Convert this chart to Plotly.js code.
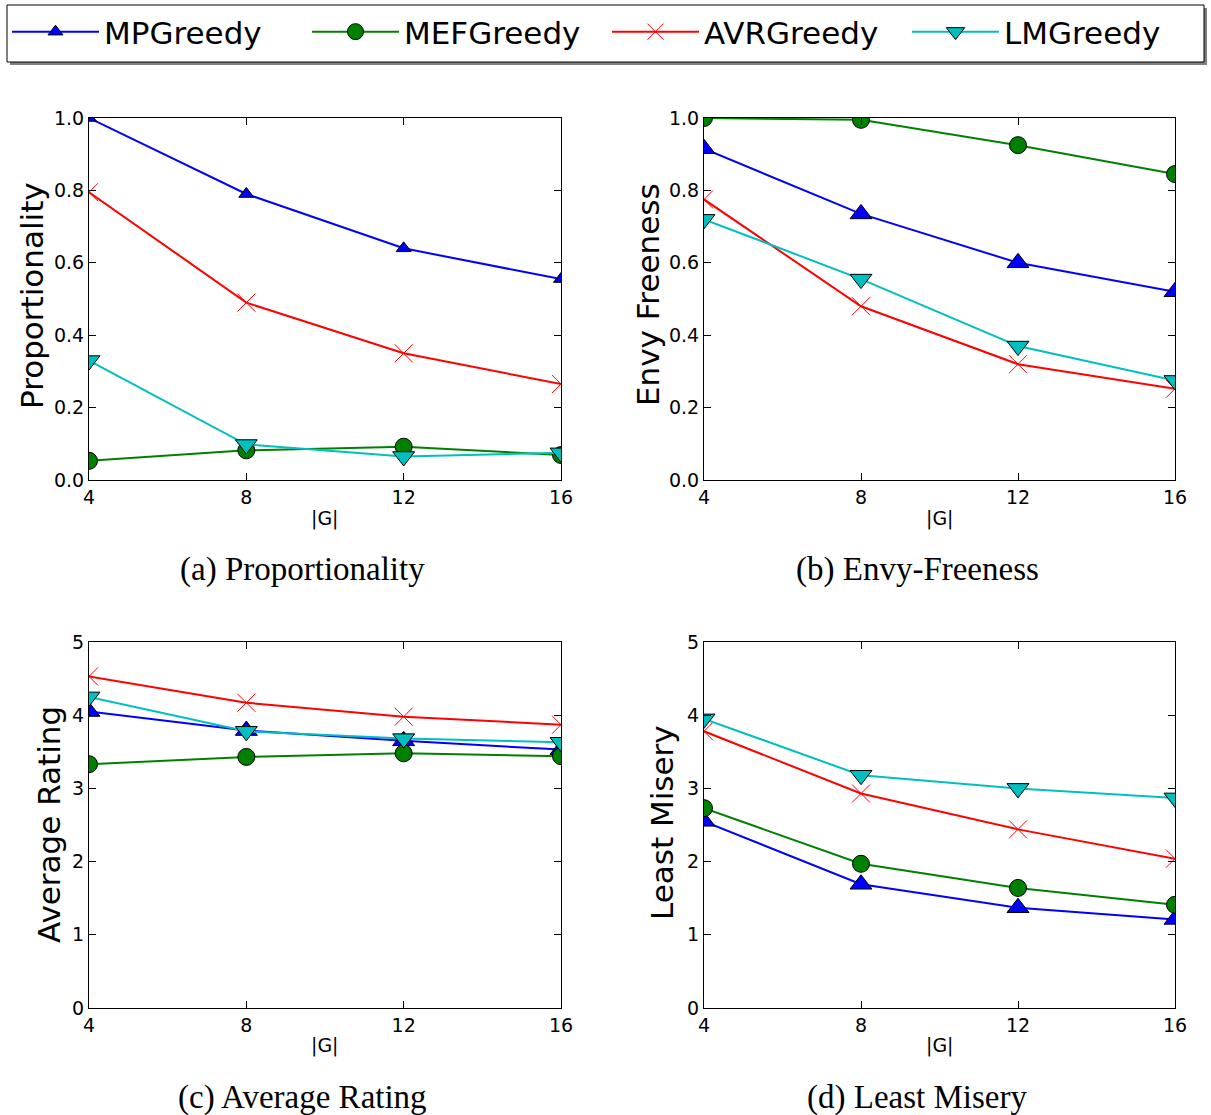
<!DOCTYPE html>
<html>
<head>
<meta charset="utf-8">
<script src="https://cdn.plot.ly/plotly-3.0.1.min.js"></script>
<style>body{margin:0;padding:0;background:#fff;}#chart{width:1211px;height:1115px;}</style>
</head>
<body>
<div id="chart"></div>
<script>
// ---- data ----
const groupSizes = [4, 8, 12, 16];
const seriesNames = ["MPGreedy", "MEFGreedy", "AVRGreedy", "LMGreedy"];

// (a) Proportionality
const propMP  = [1.0, 0.79, 0.64, 0.555];
const propMEF = [0.053, 0.082, 0.092, 0.069];
const propAVR = [0.795, 0.49, 0.35, 0.265];
const propLM  = [0.33, 0.098, 0.065, 0.075];

// (b) Envy Freeness
const envyMP  = [0.915, 0.735, 0.60, 0.52];
const envyMEF = [1.0, 0.995, 0.925, 0.845];
const envyAVR = [0.775, 0.48, 0.32, 0.252];
const envyLM  = [0.72, 0.555, 0.37, 0.275];

// (c) Average Rating
const avgMP  = [4.05, 3.79, 3.65, 3.53];
const avgMEF = [3.33, 3.43, 3.48, 3.44];
const avgAVR = [4.53, 4.17, 3.98, 3.87];
const avgLM  = [4.25, 3.78, 3.68, 3.63];

// (d) Least Misery
const lmMP  = [2.55, 1.69, 1.37, 1.21];
const lmMEF = [2.73, 1.97, 1.64, 1.41];
const lmAVR = [3.78, 2.93, 2.44, 2.04];
const lmLM  = [3.95, 3.18, 3.00, 2.87];

const yTitles = ["Proportionality", "Envy Freeness", "Average Rating", "Least Misery"];
const captions = ["(a) Proportionality", "(b) Envy-Freeness", "(c) Average Rating", "(d) Least Misery"];
const xTitle = "|G|";

// ---- styles ----
const styles = [
  {color: "#0000ff", symbol: "triangle-up", size: 19, lineColor: "#000", lineWidth: 1},
  {color: "#008000", symbol: "circle", size: 17, lineColor: "#000", lineWidth: 1},
  {color: "#ff0000", symbol: "x-thin-open", size: 18, lineColor: "#ff0000", lineWidth: 1},
  {color: "#00bfbf", symbol: "triangle-down", size: 19, lineColor: "#000", lineWidth: 1}
];

const panels = [
  {data: [propMP, propMEF, propAVR, propLM], xa: "x", ya: "y"},
  {data: [envyMP, envyMEF, envyAVR, envyLM], xa: "x2", ya: "y2"},
  {data: [avgMP, avgMEF, avgAVR, avgLM], xa: "x3", ya: "y3"},
  {data: [lmMP, lmMEF, lmAVR, lmLM], xa: "x4", ya: "y4"}
];

const traces = [];
panels.forEach((p, pi) => {
  p.data.forEach((vals, si) => {
    const s = styles[si];
    let size = s.size;
    if (pi === 0 && si === 0) size = 13;
    traces.push({
      type: "scatter", mode: "lines+markers",
      x: groupSizes, y: vals, xaxis: p.xa, yaxis: p.ya,
      name: seriesNames[si], legendgroup: seriesNames[si],
      showlegend: pi === 0,
      line: {color: s.color, width: 2},
      marker: {symbol: s.symbol, size: size, color: s.color,
               line: {color: s.lineColor, width: s.lineWidth}},
      cliponaxis: true
    });
  });
});

const W = 1211, H = 1115;
const px = v => v / W;
const py = v => (H - v) / H;

const colDom = [[px(89), px(561)], [px(704), px(1175)]];
const rowDom = [[py(480), py(118)], [py(1008), py(642)]];

function xAxis(dom, anchor) {
  return {domain: dom, anchor: anchor, range: [4, 16], tickvals: groupSizes,
    ticks: "inside", ticklen: 7, tickcolor: "#000", showline: true, linecolor: "#000",
    linewidth: 1, mirror: "ticks", showgrid: false, zeroline: false,
    tickfont: {family: "DejaVu Sans", size: 19, color: "#000"}};
}
function yAxis(dom, anchor, rng, dt, fmt) {
  return {domain: dom, anchor: anchor, range: rng, dtick: dt, tick0: 0, tickformat: fmt,
    ticks: "inside", ticklen: 7, tickcolor: "#000", showline: true, linecolor: "#000",
    linewidth: 1, mirror: "ticks", showgrid: false, zeroline: false,
    tickfont: {family: "DejaVu Sans", size: 19, color: "#000"}};
}

const annotations = [];
const yTitlePos = [[32, 296], [648, 295], [49, 825], [662, 823]];
yTitles.forEach((t, i) => {
  annotations.push({text: t, xref: "paper", yref: "paper", x: px(yTitlePos[i][0]), y: py(yTitlePos[i][1]),
    xanchor: "center", yanchor: "middle", textangle: -90, showarrow: false,
    font: {family: "DejaVu Sans", size: 31, color: "#000"}});
});
const xTitlePos = [[325, 518], [940, 518], [325, 1045], [940, 1045]];
xTitlePos.forEach(p => {
  annotations.push({text: xTitle, xref: "paper", yref: "paper", x: px(p[0]), y: py(p[1]),
    xanchor: "center", yanchor: "middle", showarrow: false,
    font: {family: "DejaVu Sans", size: 19, color: "#000"}});
});
const capPos = [[302, 570], [917, 570], [302, 1097], [917, 1097]];
captions.forEach((c, i) => {
  annotations.push({text: c, xref: "paper", yref: "paper", x: px(capPos[i][0]), y: py(capPos[i][1]),
    xanchor: "center", yanchor: "middle", showarrow: false,
    font: {family: "Liberation Serif", size: 33, color: "#000"}});
});

const layout = {
  width: W, height: H, margin: {l: 0, r: 0, t: 0, b: 0},
  paper_bgcolor: "#fff", plot_bgcolor: "#fff",
  showlegend: true,
  legend: {orientation: "h", x: px(7), y: py(5), xanchor: "left", yanchor: "top",
    bgcolor: "rgba(0,0,0,0)", borderwidth: 0,
    font: {family: "DejaVu Sans", size: 31, color: "#000"},
    itemwidth: 87, entrywidth: 198, entrywidthmode: "pixels", traceorder: "normal"},
  shapes: [
    {type: "rect", xref: "paper", yref: "paper", x0: px(10), x1: px(1207), y0: py(65), y1: py(8),
     fillcolor: "#7f7f7f", line: {width: 0}, layer: "below"},
    {type: "rect", xref: "paper", yref: "paper", x0: px(7), x1: px(1204), y0: py(62), y1: py(5),
     fillcolor: "#fff", line: {color: "#000", width: 1}, layer: "below"}
  ],
  xaxis: xAxis(colDom[0], "y"), yaxis: yAxis(rowDom[0], "x", [0, 1], 0.2, ".1f"),
  xaxis2: xAxis(colDom[1], "y2"), yaxis2: yAxis(rowDom[0], "x2", [0, 1], 0.2, ".1f"),
  xaxis3: xAxis(colDom[0], "y3"), yaxis3: yAxis(rowDom[1], "x3", [0, 5], 1, "d"),
  xaxis4: xAxis(colDom[1], "y4"), yaxis4: yAxis(rowDom[1], "x4", [0, 5], 1, "d"),
  annotations: annotations
};

Plotly.newPlot("chart", traces, layout, {displayModeBar: false, staticPlot: true});
</script>
</body>
</html>
